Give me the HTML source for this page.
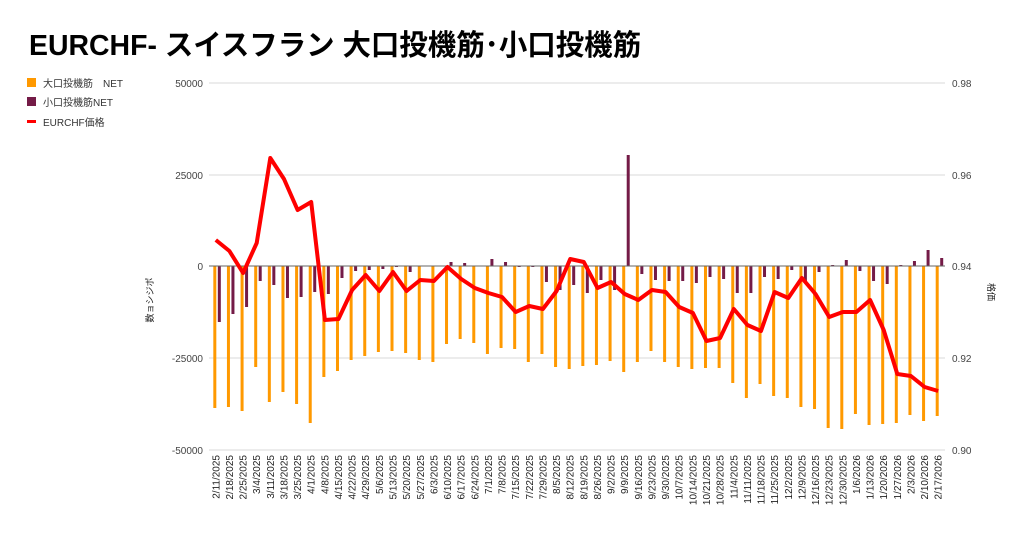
<!DOCTYPE html>
<html><head><meta charset="utf-8"><style>
body{margin:0;background:#fff;width:1024px;height:532px;overflow:hidden;font-family:"Liberation Sans","Noto Sans CJK JP",sans-serif}
</style></head><body>
<svg id="s" width="1024" height="532" xmlns="http://www.w3.org/2000/svg" font-family="Liberation Sans, Noto Sans CJK JP, sans-serif">
<text x="29" y="55" font-size="29" font-weight="bold" fill="#000" textLength="612" lengthAdjust="spacingAndGlyphs">EURCHF- スイスフラン 大口投機筋･小口投機筋</text>
<rect x="27" y="78" width="9" height="9" fill="#ff9900"/><text x="43" y="87" font-size="10" fill="#333">大口投機筋　NET</text>
<rect x="27" y="97" width="9" height="9" fill="#741b47"/><text x="43" y="106" font-size="10" fill="#333">小口投機筋NET</text>
<rect x="27" y="120" width="9" height="3" fill="#ff0000"/><text x="43" y="126" font-size="10" fill="#333">EURCHF価格</text>
<g stroke="#d9d9d9" stroke-width="1">
<line x1="209" x2="945" y1="83" y2="83"/><line x1="209" x2="945" y1="175" y2="175"/><line x1="209" x2="945" y1="358" y2="358"/><line x1="209" x2="945" y1="450" y2="450"/></g>
<g font-size="10" fill="#444" text-anchor="end">
<text x="203" y="87">50000</text><text x="203" y="179">25000</text><text x="203" y="270">0</text><text x="203" y="362">-25000</text><text x="203" y="454">-50000</text></g>
<g font-size="10" fill="#444">
<text x="952" y="87">0.98</text><text x="952" y="179">0.96</text><text x="952" y="270">0.94</text><text x="952" y="362">0.92</text><text x="952" y="454">0.90</text></g>
<text transform="translate(153,300) rotate(-90)" font-size="9" fill="#222" text-anchor="middle">数ョシジポ</text>
<text transform="translate(988,292) rotate(90)" font-size="9" fill="#222" text-anchor="middle">格価</text>
<g id="bars"></g>
<line x1="209" x2="945" y1="266" y2="266" stroke="#666" stroke-width="1"/>
<polyline id="ln" fill="none" stroke="#ff0000" stroke-width="4" stroke-linejoin="round"/>
<g id="lb" font-size="10" fill="#222" text-anchor="end"></g>
</svg>
<script>
var o=[408,407,411,367,402,392,404,423,377,371,360,356,352,351,353,360,362,344,339,343,354,348,349,362,354,367,369,366,365,361,372,362,351,362,367,369,368,368,383,398,384,396,398,407,409,428,429,414,425,424,423,415,421,416];
var p=[322,314,307,281,285,298,297,292,294,278,271,270,269,267,272,266,266,262,263,266,259,262,267,267,282,290,285,293,280,290,155,274,280,281,281,283,277,279,293,293,277,279,270,283,272,265,260,271,281,284,265,261,250,258];
var l=[240,251,273,243,158,179,210,202,320,319,290,275,291,272,291,280,281,267,279,288,293,297,312,306,309,291,259,262,288,282,294,300,290,292,307,313,341,338,309,325,331,292,298,278,294,317,312,312,300,330,374,376,387,391];
var ns="http://www.w3.org/2000/svg",b=document.getElementById('bars'),lb=document.getElementById('lb'),pts=[];
var d=new Date(2025,1,11);
for(var i=0;i<54;i++){var c=209+13.63*(i+0.5);
function r(x,y1,y2,f){var e=document.createElementNS(ns,'rect');e.setAttribute('x',x);e.setAttribute('y',Math.min(y1,y2));e.setAttribute('width',3);e.setAttribute('height',Math.abs(y2-y1));e.setAttribute('fill',f);b.appendChild(e);}
r(c-2.5,266,o[i],'#ff9900');r(c+2,266,p[i],'#741b47');
pts.push(c.toFixed(1)+','+l[i]);
var t=document.createElementNS(ns,'text');t.setAttribute('transform','translate('+(c+3.5)+',455) rotate(-90)');
t.textContent=(d.getMonth()+1)+'/'+d.getDate()+'/'+d.getFullYear();lb.appendChild(t);d.setDate(d.getDate()+7);}
document.getElementById('ln').setAttribute('points',pts.join(' '));
</script>
</body></html>
